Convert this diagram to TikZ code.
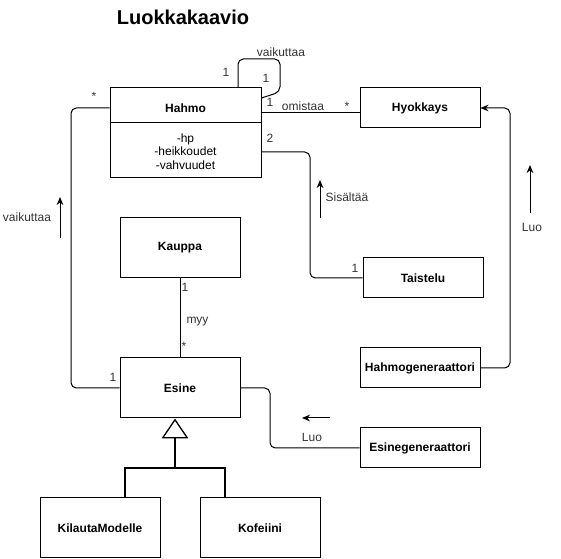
\documentclass[tikz,border=0pt]{standalone}
\usepackage{fontspec}
\setmainfont{Liberation Sans}
\usetikzlibrary{arrows.meta}
\begin{document}
\begin{tikzpicture}[x=0.75pt,y=-0.75pt,
    luokka/.style={draw,line width=0.75pt,minimum width=90pt,minimum height=30pt,
      font=\bfseries\fontsize{9}{11}\selectfont},
    iso/.style={minimum height=45pt},
    etiketti/.style={font=\fontsize{9}{11}\selectfont,text=black!80,inner sep=0pt},
    nuoli/.style={-{Stealth[length=6pt,width=5pt]},line width=0.75pt},
    perinta/.style={line width=1.5pt}]
  \useasboundingbox (0,0) rectangle (561,559);
  \node[font=\bfseries\fontsize{15}{18}\selectfont] (otsikko) at (183,17) {Luokkakaavio};

  % luokat
  \node[luokka,minimum width=113.25pt,minimum height=67.5pt] (hahmo) at (185.5,133) {};
  \node[font=\bfseries\fontsize{9}{11}\selectfont,inner sep=0pt] (hahmonimi) at (185.5,108) {Hahmo};
  \node[align=center,font=\fontsize{9}{10.2}\selectfont,inner sep=0pt] (hahmoattr) at (185.5,151.5)
    {-hp\\-heikkoudet\\-vahvuudet};
  \draw[line width=0.75pt] (hahmo.west |- 0,123) -- (hahmo.east |- 0,123);
  \node[luokka] (hyokkays) at (420,108) {Hyokkays};
  \node[luokka] (taistelu) at (423,278) {Taistelu};
  \node[luokka] (hahmogen) at (420,368) {Hahmogeneraattori};
  \node[luokka] (esinegen) at (420,448) {Esinegeneraattori};
  \node[luokka,iso] (kauppa) at (180,248) {Kauppa};
  \node[luokka,iso] (esine) at (180,388) {Esine};
  \node[luokka,iso] (kilauta) at (100,528) {KilautaModelle};
  \node[luokka,iso] (kofeiini) at (260,528) {Kofeiini};

  % yhteydet
  \begin{scope}[line width=0.75pt,rounded corners=4pt]
    \draw (hahmo.north -| 238,0) -- (238,59) -- (280,59) -- (280,92) -- (hahmo.east |- 0,98);
    \draw (hahmo.east |- 0,113) -- (hyokkays.west |- 0,113);
    \draw (hahmo.east |- 0,152) -- (310,152) -- (310,278) -- (taistelu.west);
    \draw (hahmo.west |- 0,108) -- (71,108) -- (71,388) -- (esine.west);
    \draw (kauppa) -- (esine);
    \draw (esinegen.west) -- (270,448) -- (270,388) -- (esine.east);
    \draw[nuoli] (hahmogen.east) -- (510,368) -- (510,108) -- (hyokkays.east);
  \end{scope}
  \draw[perinta] (kilauta.north -| 125,0) -- (125,468) -- (225,468) -- (kofeiini.north -| 225,0);
  \draw[perinta,-{Triangle[open,length=15pt,width=20pt,line width=1pt]}]
    (175,468) -- (esine.south -| 175,0);

  % suuntanuolet
  \coordinate (v1) at (60,238);
  \coordinate (v2) at (60,197);
  \coordinate (s1) at (320,218);
  \coordinate (s2) at (320,180);
  \coordinate (l1) at (530,213);
  \coordinate (l2) at (530,165);
  \coordinate (e1) at (330,418);
  \coordinate (e2) at (302,418);
  \draw[nuoli] (v1) -- (v2);
  \draw[nuoli] (s1) -- (s2);
  \draw[nuoli] (l1) -- (l2);
  \draw[nuoli] (e1) -- (e2);

  % etiketit
  \node[etiketti] (vaikuttaa1) at (281,52) {vaikuttaa};
  \node[etiketti] (m1) at (226,72) {1};
  \node[etiketti] (m2) at (266,78) {1};
  \node[etiketti] (m3) at (270,102) {1};
  \node[etiketti] (omistaa) at (303,106) {omistaa};
  \node[etiketti] (m4) at (347,106) {*};
  \node[etiketti] (m5) at (270,138) {2};
  \node[etiketti] (sisaltaa) at (347,197) {Sisältää};
  \node[etiketti] (m6) at (355,268) {1};
  \node[etiketti] (luo1) at (532,227) {Luo};
  \node[etiketti] (luo2) at (312,437) {Luo};
  \node[etiketti] (vaikuttaa2) at (27,217) {vaikuttaa};
  \node[etiketti] (m7) at (94,96) {*};
  \node[etiketti] (m8) at (113,377) {1};
  \node[etiketti] (m9) at (185,287) {1};
  \node[etiketti] (myy) at (197.5,322) {myy};
  \node[etiketti] (m10) at (184,346) {*};
\end{tikzpicture}
\end{document}
